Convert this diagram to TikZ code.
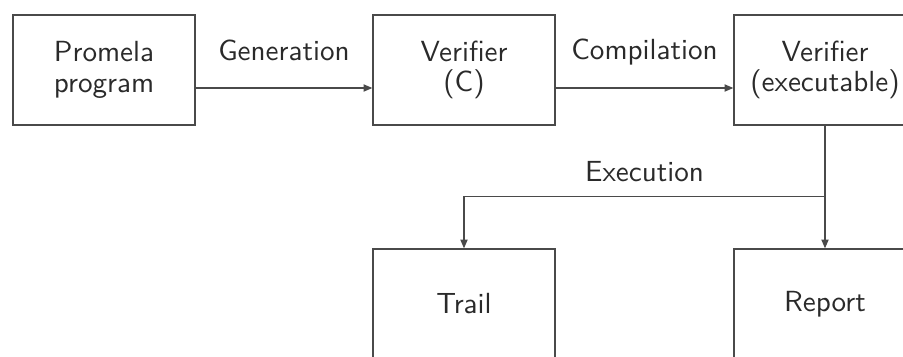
\documentclass[tikz,border=0pt]{standalone}
\usepackage{fontspec}
\usepackage{tikz}
\usetikzlibrary{arrows.meta, positioning}
\newfontfamily\slidefont{lmsans10-regular.otf}
\definecolor{linegray}{HTML}{4A4A4A}
\definecolor{inkdark}{HTML}{2A2A2A}

\begin{document}
\begin{tikzpicture}[x=0.025cm, y=-0.025cm,
    font=\slidefont\fontsize{20.7}{21.5}\selectfont, text=inkdark,
    stagebox/.style={draw=linegray, line width=0.9pt, minimum width=4.55cm, minimum height=2.75cm, align=center, inner sep=0pt},
    flow/.style={draw=linegray, line width=0.9pt, -{Triangle[length=0.22cm, width=0.18cm]}}]
  \useasboundingbox (0,0) rectangle (903,356);
  \clip (0,0) rectangle (903,356);
  % Etapas
  \node[stagebox] (prom) at (104,70) {Promela\\program};
  \node[stagebox] (verc) at (464,70) {Verifier\\(C)};
  \node[stagebox] (vexe) at (825,70) {Verifier\\(executable)};
  \node[stagebox] (trail) at (464,304) {Trail};
  \node[stagebox] (report) at (825,304) {Report};
  % Generacion y compilacion
  \draw[flow] ([yshift=-0.45cm]prom.east) -- ([yshift=-0.45cm]verc.west)
    node[midway, anchor=base, yshift=0.675cm] {Generation};
  \draw[flow] ([yshift=-0.45cm]verc.east) -- ([yshift=-0.45cm]vexe.west)
    node[midway, anchor=base, yshift=0.7cm] {Compilation};
  % Ejecucion
  \draw[flow] (vexe.south) -- (report.north) coordinate[pos=0.576] (split);
  \draw[flow] (split) -| (trail.north)
    node[pos=0.25, anchor=base, yshift=0.375cm] {Execution};
\end{tikzpicture}
\end{document}
